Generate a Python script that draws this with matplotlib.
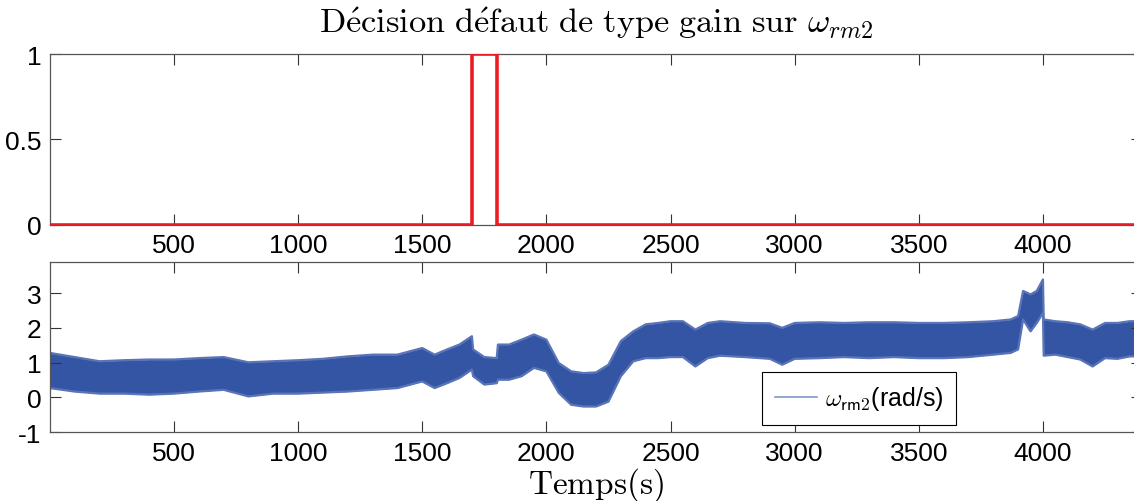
import matplotlib
matplotlib.use("Agg")
import matplotlib.pyplot as plt

plt.rcParams['font.family'] = ['Liberation Sans', 'DejaVu Sans']
plt.rcParams['mathtext.fontset'] = 'cm'
plt.rcParams['axes.unicode_minus'] = False

# decision signal (fault flag)
dec_t = [0, 1700, 1700, 1800, 1800, 4400]
dec_val = [0, 0, 1, 1, 0, 0]

# envelope of the noisy speed band omega_rm2
w_t = [0, 100, 200, 300, 400, 500, 600, 700, 800, 900, 1000, 1100, 1200,
       1300, 1400, 1500, 1550, 1600, 1650, 1700, 1705, 1750, 1800, 1805,
       1850, 1900, 1950, 2000, 2050, 2100, 2150, 2200, 2250, 2300, 2350,
       2400, 2450, 2500, 2550, 2600, 2650, 2700, 2800, 2900, 2950, 3000,
       3100, 3200, 3300, 3400, 3500, 3600, 3700, 3800, 3870, 3900, 3920,
       3950, 3975, 4000, 4003, 4050, 4100, 4150, 4200, 4250, 4300, 4350,
       4400]
w_hi = [1.28, 1.16, 1.04, 1.07, 1.09, 1.09, 1.13, 1.16, 1.01, 1.04, 1.07,
        1.11, 1.18, 1.23, 1.23, 1.42, 1.23, 1.38, 1.52, 1.76, 1.38, 1.16,
        1.13, 1.52, 1.52, 1.66, 1.81, 1.66, 0.99, 0.75, 0.70, 0.72, 0.94,
        1.62, 1.90, 2.10, 2.14, 2.19, 2.19, 1.95, 2.14, 2.19, 2.14, 2.13,
        2.00, 2.14, 2.16, 2.14, 2.16, 2.16, 2.14, 2.14, 2.16, 2.19, 2.24,
        2.34, 3.06, 2.96, 3.06, 3.39, 2.24, 2.19, 2.16, 2.10, 1.95, 2.14,
        2.14, 2.19, 2.19]
w_lo = [0.27, 0.17, 0.11, 0.11, 0.08, 0.11, 0.17, 0.22, 0.03, 0.11, 0.11,
        0.14, 0.17, 0.22, 0.27, 0.46, 0.27, 0.41, 0.56, 0.80, 0.61, 0.37,
        0.41, 0.51, 0.51, 0.61, 0.85, 0.75, 0.13, -0.21, -0.26, -0.26, -0.12,
        0.61, 1.04, 1.13, 1.13, 1.16, 1.16, 0.89, 1.13, 1.20, 1.16, 1.11,
        0.94, 1.11, 1.13, 1.16, 1.13, 1.16, 1.13, 1.13, 1.16, 1.23, 1.28,
        1.38, 2.24, 1.90, 2.14, 2.43, 1.20, 1.23, 1.16, 1.09, 0.89, 1.13,
        1.11, 1.18, 1.18]

xticks = [500, 1000, 1500, 2000, 2500, 3000, 3500, 4000]

fig = plt.figure(figsize=(11.34, 5.02), dpi=100)
ax1 = fig.add_axes([0.0439, 0.5504, 0.9634, 0.3400])
ax2 = fig.add_axes([0.0439, 0.1369, 0.9634, 0.3398])

ax1.plot(dec_t, dec_val, color='#ec1c24', lw=2.6, zorder=3)
ax1.set_xlim(0, 4400)
ax1.set_ylim(0, 1)
ax1.set_yticks([0, 0.5, 1])
ax1.set_yticklabels(['0', '0.5', '1'])
ax1.set_title(r'$\mathrm{D\acute{e}cision\ d\acute{e}faut\ de\ type\ gain\ sur\ }\omega_{rm2}$',
              fontsize=24.7, pad=16)

blue = '#3454a4'
ax2.fill_between(w_t, w_lo, w_hi, color=blue, lw=0)
ax2.plot(w_t, w_hi, color='#5a74b8', lw=1.6)
ax2.plot(w_t, w_lo, color='#5a74b8', lw=1.6)
ax2.plot([], [], color='#8096cc', lw=1.2, label=r'$\omega_{\mathsf{rm2}}$(rad/s)')
ax2.set_xlim(0, 4400)
ax2.set_ylim(-1, 3.9)
ax2.set_yticks([-1, 0, 1, 2, 3])
ax2.set_xlabel(r'$\mathrm{Temps(s)}$', fontsize=24, labelpad=0)
leg = ax2.legend(loc='lower left', bbox_to_anchor=(0.652, 0.043), borderaxespad=0,
                 fontsize=18, fancybox=False, framealpha=1, edgecolor='black',
                 handlelength=1.7, handletextpad=0.3, borderpad=0.5)
leg.get_frame().set_linewidth(0.8)

for ax in (ax1, ax2):
    ax.set_xticks(xticks)
    ax.tick_params(direction='in', length=8, width=0.8, labelsize=19,
                   top=True, right=True, colors='#333333', labelcolor='black', pad=6)
    for s in ax.spines.values():
        s.set_color('#555555')
        s.set_linewidth(0.9)

fig.savefig('out.png', dpi=100)
